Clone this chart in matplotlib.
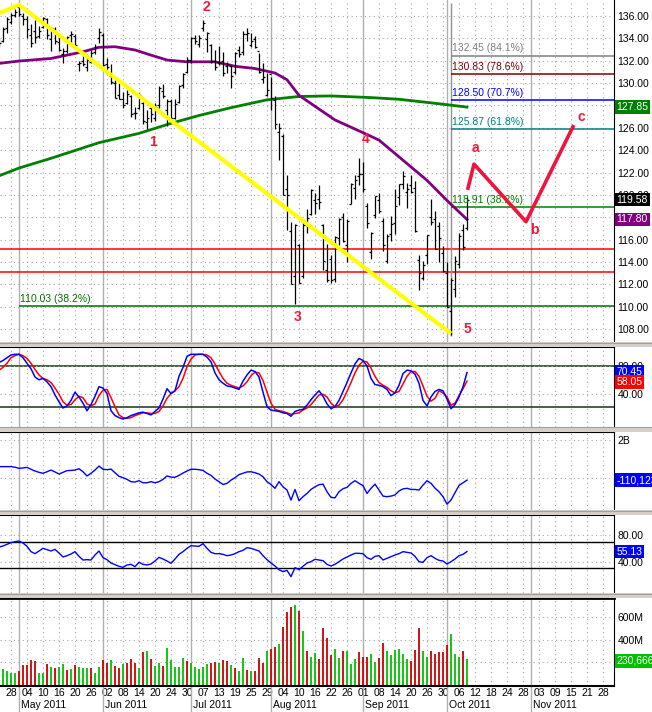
import numpy as np
import pandas as pd
import matplotlib
matplotlib.use("Agg")
import matplotlib.pyplot as plt
from matplotlib.transforms import blended_transform_factory
from matplotlib.patches import Rectangle

plt.rcParams["font.family"] = ["Liberation Sans", "DejaVu Sans"]

# ── data (SPY daily, 25 Apr 2011 .. 10 Oct 2011) ─────────────────────────────
opens = [
    133.7, 133.8, 134.9, 135.5, 136.1, 136.8, 136.0, 135.7, 134.3, 134.7,
    134.2, 135.0, 135.7, 133.9, 134.8, 133.7, 132.6, 132.9, 134.3, 134.2,
    131.7, 132.0, 131.4, 131.9, 132.8, 134.0, 134.3, 131.7, 130.6, 130.0,
    128.9, 128.6, 128.2, 128.8, 127.3, 127.8, 128.2, 126.5, 127.8, 126.9,
    128.0, 129.3, 127.6, 128.4, 126.9, 128.3, 129.8, 131.0, 132.1, 134.0,
    133.5, 134.9, 133.9, 133.4, 132.0, 131.9, 132.0, 131.5, 131.5, 131.0,
    133.0, 132.8, 134.4, 133.4, 133.9, 132.9, 130.4, 128.9, 130.8, 128.5,
    125.6, 125.3, 120.5, 116.8, 112.7, 115.5, 112.7, 117.3, 118.3, 119.5,
    119.6, 117.3, 113.3, 114.3, 112.5, 116.1, 118.0, 115.5, 119.2, 120.6,
    121.7, 121.9, 119.0, 114.9, 118.2, 119.5, 117.7, 114.1, 116.5, 117.5,
    119.8, 121.0, 120.3, 120.9, 120.6, 114.2, 112.6, 114.6, 118.0, 117.8,
    117.2, 114.8, 113.0, 109.6, 111.6, 113.8, 116.9, 117.0]
highs = [
    133.9, 135.0, 135.9, 136.3, 136.6, 137.0, 136.3, 136.0, 135.3, 135.6,
    135.1, 135.9, 135.8, 135.0, 135.0, 134.4, 133.1, 134.2, 134.7, 134.4,
    132.0, 132.4, 132.6, 133.0, 133.5, 134.9, 134.5, 132.2, 131.7, 130.5,
    130.0, 129.2, 129.4, 128.9, 127.9, 129.1, 128.3, 127.6, 128.0, 128.2,
    129.7, 129.9, 128.6, 128.6, 128.6, 129.8, 130.9, 132.3, 134.1, 134.3,
    134.3, 135.6, 134.6, 133.5, 133.0, 133.3, 132.8, 131.9, 131.6, 132.8,
    133.3, 134.7, 134.9, 134.5, 134.2, 132.7, 131.8, 130.9, 130.5, 128.8,
    126.4, 125.4, 121.8, 117.6, 117.4, 115.6, 117.7, 118.7, 120.5, 120.2,
    120.9, 117.4, 115.6, 114.6, 116.3, 117.9, 118.4, 117.8, 121.1, 121.8,
    123.3, 122.9, 119.3, 116.7, 119.9, 120.2, 117.9, 116.5, 118.1, 120.5,
    121.0, 122.1, 121.1, 121.8, 121.2, 114.6, 114.1, 116.4, 119.6, 118.6,
    117.6, 115.4, 114.0, 112.6, 114.5, 116.6, 117.4, 119.8]
lows = [
    133.2, 133.7, 134.5, 135.3, 135.9, 136.0, 135.2, 134.0, 133.2, 133.6,
    134.0, 134.9, 133.9, 132.9, 133.5, 132.9, 131.8, 132.7, 133.5, 133.2,
    131.1, 131.5, 131.1, 131.8, 132.6, 133.6, 131.5, 130.8, 129.9, 128.7,
    128.6, 127.8, 128.1, 127.0, 126.8, 127.7, 126.3, 125.9, 126.5, 126.6,
    127.8, 128.7, 126.2, 126.8, 126.8, 128.2, 129.6, 130.9, 131.8, 133.5,
    133.2, 134.7, 132.8, 131.8, 131.2, 131.6, 130.6, 130.9, 129.6, 130.8,
    132.3, 132.5, 133.8, 133.2, 133.1, 130.9, 130.0, 128.8, 127.6, 125.9,
    123.1, 120.0, 116.9, 112.0, 110.2, 112.1, 112.6, 116.6, 118.2, 118.3,
    118.7, 113.3, 112.2, 112.1, 112.2, 115.5, 115.8, 114.0, 119.2, 119.6,
    120.9, 120.3, 117.0, 114.3, 117.9, 118.4, 115.0, 113.9, 115.9, 116.5,
    119.1, 120.5, 118.8, 120.2, 116.7, 111.5, 112.4, 113.8, 117.3, 115.2,
    114.0, 113.1, 110.0, 107.5, 110.9, 113.5, 115.1, 116.9]
closes = [
    133.6, 134.8, 135.7, 136.1, 136.4, 136.2, 135.7, 134.8, 133.6, 134.1,
    134.7, 135.8, 134.3, 134.9, 133.8, 133.0, 132.9, 134.1, 134.4, 133.4,
    131.8, 131.7, 132.1, 132.7, 133.2, 134.6, 131.6, 131.4, 130.1, 128.7,
    128.6, 128.0, 129.0, 127.2, 127.3, 128.9, 126.6, 126.9, 127.2, 127.9,
    129.6, 128.8, 128.4, 126.9, 128.1, 129.7, 130.8, 132.1, 134.0, 133.8,
    134.0, 135.4, 134.5, 132.0, 131.4, 131.8, 130.9, 131.7, 130.6, 132.7,
    132.6, 134.4, 134.5, 133.8, 133.2, 131.0, 130.5, 129.4, 128.7, 126.3,
    126.0, 120.0, 120.0, 112.0, 117.3, 112.1, 117.3, 117.9, 120.4, 119.3,
    119.4, 114.1, 112.4, 112.4, 116.2, 117.8, 115.9, 117.7, 121.0, 121.3,
    121.9, 120.5, 117.5, 116.6, 119.9, 118.6, 115.5, 116.3, 117.4, 119.0,
    121.0, 121.7, 120.5, 120.3, 116.8, 113.0, 113.7, 116.4, 117.6, 115.2,
    116.1, 113.2, 110.0, 112.4, 114.1, 116.3, 115.3, 119.58]

# moving averages, read at a handful of bars
sma50_idx = [0, 5, 13, 21, 25, 29, 34, 38, 42, 47, 54, 59, 64, 69, 72, 75,
             84, 92, 95, 100, 107, 112, 117]
sma50_val = [131.76, 131.97, 132.2, 132.8, 133.2, 133.25, 132.96, 132.5, 132.06,
             131.9, 131.9, 131.5, 131.3, 130.9, 130.3, 128.9, 126.7, 125.4,
             124.9, 123.4, 121.3, 119.5, 117.8]
sma200_idx = [0, 5, 13, 25, 35, 43, 45, 50, 58, 67, 75, 83, 93, 100, 110, 117]
sma200_val = [121.7, 122.4, 123.27, 124.67, 125.5, 126.4, 126.6, 127.1, 127.8,
              128.5, 128.8, 128.85, 128.7, 128.55, 128.15, 127.85]

# drawn objects on the price chart
trend_idx = [0, 5, 113]
trend_val = [136.25, 137.0, 107.6]
proj_idx = [117.25, 118.75, 131.75, 143.5]
proj_val = [120.6, 122.75, 117.6, 126.1]
wave_text = ["1", "2", "3", "4", "5", "a", "b", "c"]
wave_idx = [38.5, 51.75, 74.75, 91.75, 117.0, 119.0, 133.75, 145.5]
wave_val = [124.73, 136.8, 109.1, 125.0, 108.0, 124.2, 116.86, 126.97]
fib_levels = [132.45, 130.83, 128.50, 125.87, 118.91]
fib_pcts = ["84.1%", "78.6%", "70.7%", "61.8%", "38.2%"]
fib_colors = ["#808080", "#800000", "#0000ff", "#008080", "#008000"]
fib_low, fib_high = 107.65, 137.14
left_fib_level, left_fib_pct = 110.03, "38.2%"
red_levels = [115.13, 113.07]

# stochastic
stoch_k = [
    85, 88, 92, 96, 97, 97, 92, 84, 76, 64,
    60, 62, 57, 50, 38, 28, 19, 22, 30, 42,
    35, 26, 15, 24, 36, 50, 48, 40, 15, 8,
    5, 3, 5, 8, 10, 12, 13, 11, 9, 14,
    19, 32, 47, 40, 44, 65, 78, 94, 97, 97,
    97, 97, 93, 86, 70, 60, 55, 51, 50, 48,
    46, 58, 67, 74, 72, 64, 42, 21, 16, 15,
    14, 12, 11, 7, 14, 16, 17, 23, 31, 38,
    44, 36, 25, 18, 21, 30, 43, 56, 70, 83,
    91, 88, 80, 62, 53, 52, 50, 46, 37, 41,
    52, 69, 74, 73, 68, 55, 30, 22, 35, 43,
    46, 44, 32, 18, 24, 35, 50, 70.45]
stoch_d = [
    74, 78, 84, 92, 95, 97, 95, 91, 84, 75,
    67, 62, 60, 56, 48, 39, 28, 23, 24, 31,
    36, 34, 25, 22, 25, 37, 45, 46, 34, 21,
    9, 5, 4, 5, 8, 10, 12, 12, 11, 11,
    14, 22, 33, 40, 44, 50, 62, 79, 90, 96,
    97, 97, 96, 92, 83, 72, 62, 55, 52, 50,
    48, 51, 57, 66, 71, 70, 59, 42, 26, 17,
    15, 14, 12, 10, 11, 12, 16, 19, 24, 31,
    38, 39, 35, 26, 21, 23, 31, 43, 56, 70,
    81, 87, 86, 77, 65, 56, 52, 49, 44, 41,
    43, 54, 65, 72, 72, 65, 51, 36, 29, 33,
    44, 41, 35, 23, 26, 37, 47, 58.05]

# on-balance volume, billions
obv = [
    0.60, 0.60, 0.60, 0.60, 0.57, 0.51, 0.53, 0.56, 0.46, 0.37,
    0.30, 0.25, 0.33, 0.42, 0.32, 0.21, 0.30, 0.39, 0.40, 0.42,
    0.49, 0.33, 0.11, 0.25, 0.42, 0.63, 0.46, 0.44, 0.47, 0.28,
    0.09, 0.02, -0.07, -0.19, -0.21, -0.14, -0.25, -0.25, -0.19, -0.25,
    -0.19, -0.07, 0.11, 0.05, 0.04, 0.14, 0.26, 0.37, 0.46, 0.46,
    0.44, 0.40, 0.25, 0.14, -0.05, -0.19, -0.34, -0.28, -0.11, 0.02,
    0.18, 0.25, 0.32, 0.33, 0.28, 0.21, 0.07, -0.19, -0.34, -0.54,
    -0.19, -0.46, -0.63, -1.16, -0.60, -1.19, -0.98, -0.81, -0.60, -0.46,
    -0.35, -0.32, -0.72, -1.02, -1.04, -0.72, -0.56, -0.49, -0.28, -0.14,
    -0.28, -0.40, -0.81, -0.54, -0.32, -0.63, -0.95, -0.98, -0.95, -0.89,
    -0.68, -0.57, -0.54, -0.60, -0.60, -0.63, -0.37, -0.14, -0.28, -0.53,
    -0.72, -0.98, -1.37, -1.16, -0.77, -0.39, -0.25, -0.11]

# RSI
rsi = [
    62, 63.5, 66, 68.5, 70, 71, 68, 63, 55, 52,
    56, 60, 58, 56, 58.5, 53, 47, 49, 51.5, 55,
    48, 42.5, 43, 42.5, 50, 56, 46, 43, 38, 35.5,
    33, 31.5, 35, 36, 32.5, 39, 36, 35, 36.5, 41,
    46.5, 44, 41, 37.5, 44, 51, 55, 60, 64, 63.5,
    63, 67, 60, 54, 52, 52, 51, 49, 50, 52,
    55, 57, 61, 60, 58, 56, 49, 43, 38, 33.5,
    28, 25, 27, 17.5, 31, 28, 33, 38, 40, 43.5,
    42.5, 41.5, 36, 33.5, 36, 40, 44, 47, 50, 52.5,
    52.5, 52, 46, 43.5, 48, 49, 42.5, 45, 47.5, 50,
    52, 55, 54, 53, 48, 40, 39, 46, 49, 45,
    42, 41, 36.5, 40, 44, 49, 51, 55.13]

# volume, millions, and bar colour (g = up, r = down)
volume = [
    130, 139, 127, 110, 110, 127, 178, 178, 222, 213,
    104, 110, 186, 157, 148, 163, 186, 133, 140, 178,
    157, 148, 148, 154, 110, 157, 222, 198, 222, 169,
    154, 186, 192, 228, 198, 154, 296, 302, 228, 169,
    192, 169, 326, 222, 163, 163, 237, 213, 198, 163,
    140, 163, 186, 192, 207, 198, 222, 213, 178, 154,
    120, 237, 130, 124, 124, 237, 198, 302, 320, 338,
    364, 516, 649, 693, 711, 658, 480, 302, 249, 284,
    231, 507, 418, 267, 320, 240, 302, 302, 190, 231,
    293, 249, 249, 276, 204, 240, 373, 302, 267, 311,
    320, 276, 231, 213, 311, 507, 302, 249, 302, 276,
    293, 293, 356, 453, 276, 249, 302, 231]
vol_dir = ("gggggrrrrr" "ggrgrggrgr" "gggrggrrgr" "rgrrrgrgrg"
           "grgggggrgg" "gggrrgrrgr" "ggrgrrrgrr" "grrrgrgrgg"
           "rrrrggrggg" "rrrggrrggg" "gggrrrggrr" "rrrgggrg")

# ── calendar (trading days, incl. future part of the axis) ───────────────────
days = pd.bdate_range("2011-04-25", "2011-11-30")
days = days[~days.isin(pd.to_datetime(["2011-05-30", "2011-07-04",
                                       "2011-09-05", "2011-11-24"]))]
n_days = len(days)
tick_idx = list(range(3, n_days, 4))
tick_lbl = [days[i].strftime("%d") for i in tick_idx]
month_idx = [i for i in range(1, n_days) if days[i].month != days[i - 1].month]
month_lbl = [days[i].strftime("%b %Y") for i in month_idx]

# ── figure / layout in pixels ────────────────────────────────────────────────
W, H = 652, 712
fig = plt.figure(figsize=(W / 100, H / 100), dpi=100)
PLOT_W = 614


def add_panel(top, bottom):
    return fig.add_axes([0, 1 - bottom / H, PLOT_W / W, (bottom - top) / H])


ax_p = add_panel(0, 342)
ax_s = add_panel(347, 427)
ax_o = add_panel(432, 510)
ax_r = add_panel(515, 593)
ax_v = add_panel(598, 686)
axes = [ax_p, ax_s, ax_o, ax_r, ax_v]

# separator bands
for top in (342, 427, 510, 593):
    fig.patches.append(Rectangle((0, 1 - (top + 5) / H), 1, 5 / H,
                                 transform=fig.transFigure, fc="#d4d0c8",
                                 ec="none", zorder=0))
    fig.lines.append(plt.Line2D([0, 1], [1 - (top + 0.5) / H] * 2,
                                transform=fig.transFigure, color="#a0a0a0",
                                lw=0.8))

GRID = "#a8a8a8"
TXT = 7.5
for ax in axes:
    ax.set_xlim(0.25, n_days - 0.25)
    for s in ("left", "bottom"):
        ax.spines[s].set_visible(False)
    ax.spines["top"].set_color("black")
    ax.spines["right"].set_color("black")
    ax.yaxis.tick_right()
    ax.tick_params(axis="y", length=0, pad=2.5, labelsize=TXT)
    ax.tick_params(axis="x", length=0)
    ax.grid(axis="y", ls=(0, (1, 3)), color=GRID, lw=0.8)
    for i in tick_idx:
        ax.axvline(i, ls=(0, (1, 3)), color=GRID, lw=0.8, zorder=0)
    for i in month_idx:
        ax.axvline(i, color="#b0b0b0", lw=1.0, zorder=0)
    if ax is not ax_v:
        ax.set_xticks([])
ax_p.spines["top"].set_visible(False)


def value_box(ax, y, text, color):
    tr = blended_transform_factory(ax.transAxes, ax.transData)
    ax.text(1.004, y, text, transform=tr, ha="left", va="center", fontsize=TXT,
            color="white", clip_on=False, zorder=10,
            bbox=dict(boxstyle="square,pad=0.18", fc=color, ec="none"))


# ── price panel ──────────────────────────────────────────────────────────────
idx = np.arange(len(closes))
ax_p.set_ylim(106.84, 137.43)
price_ticks = np.arange(108, 137, 2)
ax_p.set_yticks(price_ticks)
# 118 and 128 sit fully under the value boxes
ax_p.set_yticklabels(["" if t in (118, 128) else f"{t:.2f}" for t in price_ticks])

for lvl in red_levels:
    ax_p.axhline(lvl, color="#ff0000", lw=1.1, zorder=2)
ax_p.hlines(left_fib_level, month_idx[0], n_days, color="#007000", lw=1.1, zorder=2)
ax_p.text(month_idx[0] + 0.3, left_fib_level + 0.25,
          f"{left_fib_level:.2f} ({left_fib_pct})", color="#007000",
          fontsize=TXT, va="bottom", ha="left")

fib_x = 113
ax_p.vlines(fib_x, fib_low - 0.3, fib_high, color="#909090", lw=1.0, zorder=2)
for lvl, pct, col in zip(fib_levels, fib_pcts, fib_colors):
    ax_p.hlines(lvl, fib_x, n_days, color=col, lw=1.1, zorder=2)
    ax_p.text(fib_x + 0.3, lvl + 0.2, f"{lvl:.2f} ({pct})", color=col,
              fontsize=TXT, va="bottom", ha="left", zorder=5)

ax_p.plot(sma200_idx, sma200_val, color="#008000", lw=2.0, zorder=3)
ax_p.plot(sma50_idx, sma50_val, color="#800080", lw=2.0, zorder=3)

ax_p.vlines(idx, lows, highs, color="black", lw=0.9, zorder=4)
ax_p.hlines(opens, idx - 0.45, idx, color="black", lw=0.9, zorder=4)
ax_p.hlines(closes, idx, idx + 0.45, color="black", lw=0.9, zorder=4)

ax_p.plot(trend_idx, trend_val, color="#ffff00", lw=3.0, zorder=5,
          solid_capstyle="butt")
ax_p.plot(proj_idx, proj_val, color="#f0143c", lw=2.6, zorder=5)
for t, x, y in zip(wave_text, wave_idx, wave_val):
    ax_p.text(x, y, t, color="#ee1c3c", fontsize=10, fontweight="bold",
              ha="center", va="center", zorder=6)

value_box(ax_p, sma200_val[-1], f"{sma200_val[-1]:.2f}", "#008000")
value_box(ax_p, closes[-1], f"{closes[-1]:.2f}", "black")
value_box(ax_p, sma50_val[-1], f"{sma50_val[-1]:.2f}", "#800080")

# ── stochastic ───────────────────────────────────────────────────────────────
ax_s.set_ylim(-8.6, 107.6)
ax_s.set_yticks([40, 80])
ax_s.set_yticklabels(["40.00", "80.00"])
ax_s.axhline(80, color="#123812", lw=1.1, zorder=1)
ax_s.axhline(20, color="#123812", lw=1.1, zorder=1)
ax_s.plot(np.arange(len(stoch_d)), stoch_d, color="#ff0000", lw=1.1, zorder=3)
ax_s.plot(np.arange(len(stoch_k)), stoch_k, color="#0000ff", lw=1.1, zorder=3)
value_box(ax_s, stoch_k[-1] + 1.5, f"{stoch_k[-1]:.2f}", "#0000ff")
value_box(ax_s, stoch_d[-1] - 1.5, f"{stoch_d[-1]:.2f}", "#ff0000")

# ── on-balance volume ────────────────────────────────────────────────────────
ax_o.set_ylim(-1.68, 2.42)
ax_o.set_yticks([0, 2])
ax_o.set_yticklabels(["", "2B"])
ax_o.plot(np.arange(len(obv)), obv, color="#0000ff", lw=1.0, zorder=3)
value_box(ax_o, obv[-1], "-110,123", "#0000ff")

# ── RSI ──────────────────────────────────────────────────────────────────────
ax_r.set_ylim(-7, 110)
ax_r.set_yticks([40, 80])
ax_r.set_yticklabels(["40.00", "80.00"])
ax_r.axhline(70, color="black", lw=1.0, zorder=1)
ax_r.axhline(30, color="black", lw=1.0, zorder=1)
ax_r.plot(np.arange(len(rsi)), rsi, color="#0000ff", lw=1.0, zorder=3)
value_box(ax_r, rsi[-1], f"{rsi[-1]:.2f}", "#0000ff")

# ── volume ───────────────────────────────────────────────────────────────────
ax_v.set_ylim(-9, 773)
ax_v.set_yticks([200, 400, 600])
ax_v.set_yticklabels(["", "400M", "600M"])
ax_v.spines["top"].set_linewidth(2.0)
ax_v.spines["bottom"].set_visible(True)
ax_v.spines["bottom"].set_color("black")
ax_v.spines["bottom"].set_linewidth(1.5)
vcol = ["#00c000" if c == "g" else "#cc0000" for c in vol_dir]
ax_v.vlines(np.arange(len(volume)), 0, volume, colors=vcol, lw=1.3, zorder=3)
value_box(ax_v, 215, "230,666", "#00c000")

ax_v.set_xticks(tick_idx)
ax_v.set_xticklabels(tick_lbl, fontsize=TXT)
ax_v.tick_params(axis="x", pad=1.5)
tr = blended_transform_factory(ax_v.transData, ax_v.transAxes)
for i, lbl in zip(month_idx, month_lbl):
    ax_v.text(i + 0.4, -0.215, lbl, transform=tr, fontsize=TXT,
              ha="left", va="center", clip_on=False)
    ax_v.plot([i, i], [0, -0.3], transform=tr, color="#b0b0b0", lw=1.0,
              clip_on=False)

fig.savefig("out.png", dpi=100)
